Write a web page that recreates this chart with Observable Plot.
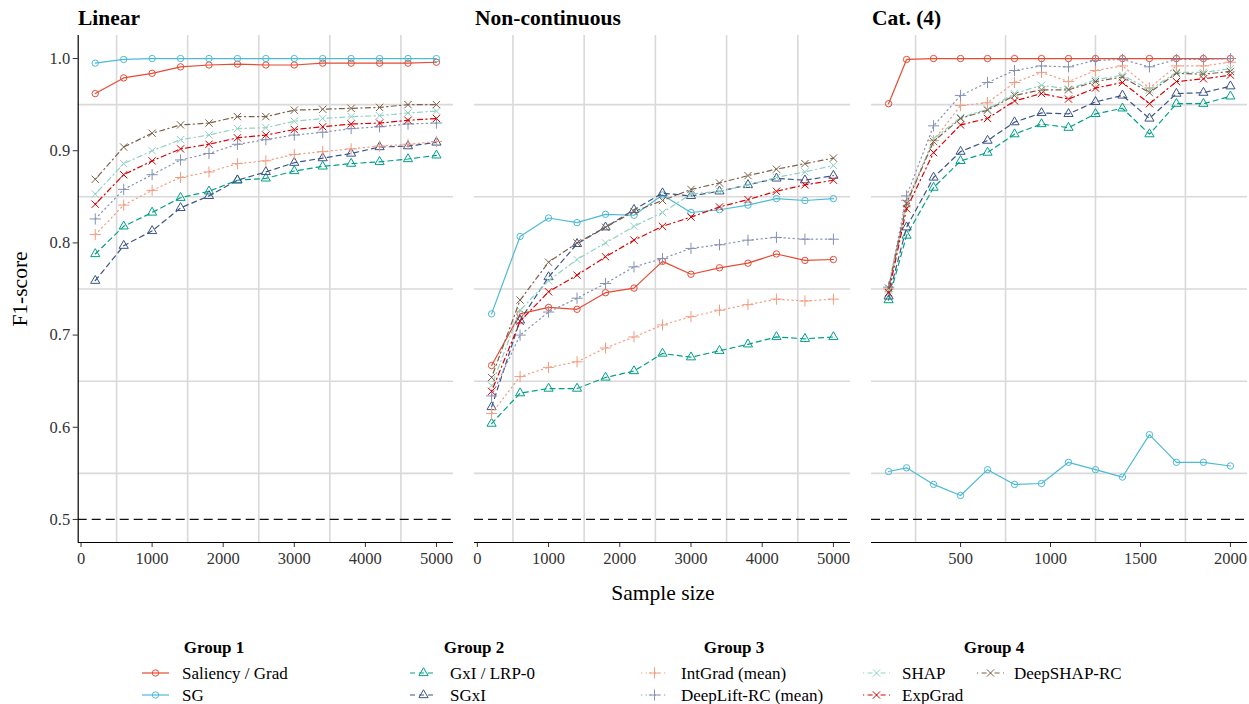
<!DOCTYPE html>
<html><head><meta charset="utf-8">
<script src="https://cdn.jsdelivr.net/npm/d3@7"></script>
<script src="https://cdn.jsdelivr.net/npm/@observablehq/plot@0.6"></script>
<style>
body{margin:0;background:#fff;width:1249px;height:704px;overflow:hidden;position:relative;font-family:"Liberation Serif",serif;}
.panel{position:absolute;top:0;}
#overlay{position:absolute;left:0;top:0;pointer-events:none;}
</style></head><body>
<script>
// ---------- data ----------
const methods = ["Saliency / Grad", "SG", "GxI / LRP-0", "SGxI", "IntGrad (mean)", "DeepLift-RC (mean)", "SHAP", "ExpGrad", "DeepSHAP-RC"];
const methodGroup = [1, 1, 2, 2, 3, 3, 4, 4, 4];
const groupTitles = ["Group 1", "Group 2", "Group 3", "Group 4"];
const panelTitles = ["Linear", "Non-continuous", "Cat. (4)"];
const colors = ["#E64B35", "#4DBBD5", "#00A087", "#3C5488", "#F39B7F", "#8491B4", "#91D1C2", "#DC0000", "#7E6148"];

const sizesLinear = [200, 600, 1000, 1400, 1800, 2200, 2600, 3000, 3400, 3800, 4200, 4600, 5000];
const sizesNonCont = [200, 600, 1000, 1400, 1800, 2200, 2600, 3000, 3400, 3800, 4200, 4600, 5000];
const sizesCat = [100, 200, 350, 500, 650, 800, 950, 1100, 1250, 1400, 1550, 1700, 1850, 2000];

const xTicksLinear = [0, 1000, 2000, 3000, 4000, 5000];
const xTicksCat = [500, 1000, 1500, 2000];
const yTicks = [0.5, 0.6, 0.7, 0.8, 0.9, 1.0];

// Linear
const linSaliency = [0.962, 0.979, 0.984, 0.991, 0.993, 0.994, 0.993, 0.993, 0.995, 0.995, 0.995, 0.995, 0.996];
const linSG = [0.995, 0.999, 1.0, 1.0, 1.0, 1.0, 1.0, 1.0, 1.0, 1.0, 1.0, 1.0, 1.0];
const linGxI = [0.788, 0.818, 0.833, 0.849, 0.856, 0.868, 0.870, 0.878, 0.883, 0.886, 0.888, 0.891, 0.895];
const linSGxI = [0.759, 0.797, 0.813, 0.838, 0.851, 0.868, 0.877, 0.887, 0.892, 0.897, 0.904, 0.905, 0.909];
const linIntGrad = [0.809, 0.841, 0.857, 0.871, 0.877, 0.886, 0.889, 0.896, 0.899, 0.902, 0.905, 0.907, 0.910];
const linDeepLift = [0.826, 0.858, 0.874, 0.890, 0.897, 0.907, 0.912, 0.917, 0.920, 0.924, 0.926, 0.929, 0.930];
const linSHAP = [0.853, 0.886, 0.900, 0.912, 0.917, 0.924, 0.925, 0.932, 0.935, 0.937, 0.938, 0.941, 0.943];
const linExpGrad = [0.842, 0.874, 0.889, 0.902, 0.907, 0.914, 0.917, 0.923, 0.926, 0.929, 0.930, 0.933, 0.935];
const linDeepSHAP = [0.869, 0.904, 0.919, 0.928, 0.930, 0.937, 0.937, 0.944, 0.945, 0.946, 0.947, 0.950, 0.950];

// Non-continuous
const ncSaliency = [0.667, 0.723, 0.730, 0.728, 0.746, 0.751, 0.780, 0.766, 0.773, 0.778, 0.788, 0.781, 0.782];
const ncSG = [0.723, 0.807, 0.827, 0.822, 0.831, 0.830, 0.852, 0.833, 0.836, 0.841, 0.848, 0.846, 0.848];
const ncGxI = [0.604, 0.637, 0.642, 0.642, 0.654, 0.661, 0.680, 0.676, 0.683, 0.690, 0.698, 0.696, 0.698];
const ncSGxI = [0.622, 0.716, 0.763, 0.799, 0.817, 0.836, 0.854, 0.851, 0.856, 0.863, 0.870, 0.868, 0.873];
const ncIntGrad = [0.615, 0.655, 0.665, 0.671, 0.686, 0.698, 0.711, 0.720, 0.727, 0.733, 0.739, 0.737, 0.739];
const ncDeepLift = [0.634, 0.700, 0.725, 0.740, 0.756, 0.774, 0.783, 0.794, 0.798, 0.803, 0.806, 0.804, 0.804];
const ncSHAP = [0.645, 0.727, 0.759, 0.782, 0.800, 0.818, 0.833, 0.853, 0.856, 0.863, 0.871, 0.877, 0.884];
const ncExpGrad = [0.639, 0.715, 0.747, 0.765, 0.785, 0.803, 0.818, 0.828, 0.839, 0.847, 0.856, 0.863, 0.868];
const ncDeepSHAP = [0.654, 0.738, 0.779, 0.800, 0.817, 0.834, 0.846, 0.858, 0.865, 0.873, 0.880, 0.886, 0.892];

// Cat. (4)
const catSaliency = [0.951, 0.999, 1.0, 1.0, 1.0, 1.0, 1.0, 1.0, 1.0, 1.0, 1.0, 1.0, 1.0, 1.0];
const catSG = [0.552, 0.556, 0.538, 0.526, 0.554, 0.538, 0.539, 0.562, 0.554, 0.546, 0.592, 0.562, 0.562, 0.558];
const catGxI = [0.738, 0.808, 0.860, 0.889, 0.898, 0.918, 0.929, 0.925, 0.940, 0.946, 0.918, 0.951, 0.951, 0.959];
const catSGxI = [0.742, 0.817, 0.871, 0.899, 0.911, 0.931, 0.941, 0.940, 0.953, 0.960, 0.935, 0.962, 0.963, 0.970];
const catIntGrad = [0.750, 0.846, 0.911, 0.949, 0.952, 0.974, 0.985, 0.975, 0.987, 0.992, 0.968, 0.992, 0.992, 0.996];
const catDeepLift = [0.752, 0.851, 0.927, 0.960, 0.974, 0.987, 0.992, 0.991, 0.998, 0.999, 0.991, 0.999, 0.999, 1.0];
const catSHAP = [0.749, 0.842, 0.913, 0.936, 0.945, 0.962, 0.971, 0.967, 0.977, 0.982, 0.966, 0.985, 0.985, 0.989];
const catExpGrad = [0.746, 0.837, 0.898, 0.928, 0.935, 0.954, 0.962, 0.956, 0.968, 0.974, 0.951, 0.975, 0.978, 0.982];
const catDeepSHAP = [0.751, 0.843, 0.910, 0.935, 0.944, 0.960, 0.966, 0.966, 0.975, 0.980, 0.963, 0.984, 0.983, 0.986];

// ---------- styles ----------
const FONT = "Liberation Serif, Times New Roman, serif";
const groupDash = {1: null, 2: "5,4", 3: "1.2,3.4", 4: "1.2,3.4,5,3.4"};
const groupSymbol = {1: "circle", 2: "triangle", 3: "plus", 4: "times"};
const groupR = {1: 3.2, 2: 3.4, 3: 3.7, 4: 3.4};
const d3Sym = {circle: d3.symbolCircle, triangle: d3.symbolTriangle, plus: d3.symbolPlus, times: d3.symbolTimes};

function toRows(xs, arr) { return xs.map((x, j) => ({x, y: arr[j]})); }

function panel({xs, values, xDomain, xTicks, xGrid, showY, left, width, marginLeft, marginRight}) {
  const marks = [
    Plot.ruleX(xGrid, {stroke: "#d9d9d9", strokeWidth: 1.6}),
    Plot.ruleY([0.55, 0.65, 0.75, 0.85, 0.95], {stroke: "#d9d9d9", strokeWidth: 1.6}),
    Plot.ruleY([0.5], {stroke: "#111", strokeWidth: 1.3, strokeDasharray: "9,5"})
  ];
  values.forEach((arr, i) => {
    const g = methodGroup[i];
    const rows = toRows(xs, arr);
    const lineOpts = {x: "x", y: "y", stroke: colors[i], strokeWidth: 1.2};
    if (groupDash[g]) lineOpts.strokeDasharray = groupDash[g];
    marks.push(Plot.line(rows, lineOpts));
    marks.push(Plot.dot(rows, {x: "x", y: "y", symbol: groupSymbol[g], r: groupR[g], stroke: colors[i], fill: "none", strokeWidth: 1}));
  });
  marks.push(Plot.ruleY([0.475], {stroke: "#000", strokeWidth: 1.2}));
  if (showY) marks.push(Plot.ruleX([xDomain[0]], {stroke: "#000", strokeWidth: 1.2}));
  const svg = Plot.plot({
    width, height: 572,
    marginTop: 35, marginBottom: 30, marginLeft, marginRight,
    style: {fontFamily: FONT, fontSize: "16.5px", color: "#333", background: "transparent", overflow: "visible"},
    x: {domain: xDomain, ticks: xTicks, tickFormat: d => String(d), tickSize: 5, tickPadding: 5, label: null},
    y: showY
      ? {domain: [0.475, 1.025], ticks: yTicks, tickFormat: d => d.toFixed(1), tickSize: 5, tickPadding: 3, label: null}
      : {domain: [0.475, 1.025], axis: null},
    marks
  });
  svg.classList.add("panel");
  svg.style.left = left + "px";
  svg.style.position = "absolute";
  svg.style.top = "0px";
  document.body.appendChild(svg);
}

panel({xs: sizesLinear,
  values: [linSaliency, linSG, linGxI, linSGxI, linIntGrad, linDeepLift, linSHAP, linExpGrad, linDeepSHAP],
  xDomain: [-40, 5240], xTicks: xTicksLinear, xGrid: [500, 1500, 2500, 3500, 4500],
  showY: true, left: 0, width: 463, marginLeft: 77.7, marginRight: 10});
panel({xs: sizesNonCont,
  values: [ncSaliency, ncSG, ncGxI, ncSGxI, ncIntGrad, ncDeepLift, ncSHAP, ncExpGrad, ncDeepSHAP],
  xDomain: [-40, 5240], xTicks: xTicksLinear, xGrid: [500, 1500, 2500, 3500, 4500],
  showY: false, left: 454, width: 406, marginLeft: 20, marginRight: 10});
panel({xs: sizesCat,
  values: [catSaliency, catSG, catGxI, catSGxI, catIntGrad, catDeepLift, catSHAP, catExpGrad, catDeepSHAP],
  xDomain: [5, 2095], xTicks: xTicksCat, xGrid: [250, 750, 1250, 1750],
  showY: false, left: 851, width: 398, marginLeft: 20, marginRight: 2});

// ---------- overlay text & legend ----------
const NS = "http://www.w3.org/2000/svg";
const ov = document.createElementNS(NS, "svg");
ov.setAttribute("id", "overlay");
ov.setAttribute("width", 1249); ov.setAttribute("height", 704);
ov.style.fontFamily = FONT;
document.body.appendChild(ov);
function txt(s, x, y, opts = {}) {
  const t = document.createElementNS(NS, "text");
  t.textContent = s;
  t.setAttribute("x", x); t.setAttribute("y", y);
  t.setAttribute("font-size", opts.size || 16);
  t.setAttribute("fill", opts.fill || "#000");
  if (opts.bold) t.setAttribute("font-weight", "bold");
  if (opts.anchor) t.setAttribute("text-anchor", opts.anchor);
  if (opts.transform) t.setAttribute("transform", opts.transform);
  if (opts.dy) t.setAttribute("dy", opts.dy);
  ov.appendChild(t);
  return t;
}
const panelLefts = [78, 475, 872];
panelTitles.forEach((s, i) => txt(s, panelLefts[i], 25, {size: 21.5, bold: true}));
txt("Sample size", 663, 600, {size: 21.5, anchor: "middle"});
txt("F1-score", 0, 0, {size: 21.5, anchor: "middle", transform: "translate(27,289) rotate(-90)"});

// legend layout
const groupTitleX = [214, 474, 734, 994];
const keyPos = [ // [keyLeft, rowY, labelX] for each method
  [142, 673, 182], [142, 695, 182],
  [410, 673, 450], [410, 695, 450],
  [641, 673, 681], [641, 695, 681],
  [863, 673, 902], [863, 695, 902], [977, 673, 1014]
];
groupTitles.forEach((s, i) => txt(s, groupTitleX[i], 647, {size: 17, bold: true, anchor: "middle", dy: "0.33em"}));
methods.forEach((m, i) => {
  const g = methodGroup[i];
  const [kx, ky, lx] = keyPos[i];
  const line = document.createElementNS(NS, "line");
  line.setAttribute("x1", kx); line.setAttribute("x2", kx + 27);
  line.setAttribute("y1", ky); line.setAttribute("y2", ky);
  line.setAttribute("stroke", colors[i]); line.setAttribute("stroke-width", 1.2);
  if (groupDash[g]) line.setAttribute("stroke-dasharray", groupDash[g]);
  ov.appendChild(line);
  const p = document.createElementNS(NS, "path");
  const r = groupR[g];
  p.setAttribute("d", d3.symbol(d3Sym[groupSymbol[g]], Math.PI * r * r)());
  p.setAttribute("transform", `translate(${kx + 13.5},${ky})`);
  p.setAttribute("fill", "none"); p.setAttribute("stroke", colors[i]); p.setAttribute("stroke-width", 1);
  ov.appendChild(p);
  txt(m, lx, ky, {size: 17, dy: "0.33em"});
});
</script></body></html>
